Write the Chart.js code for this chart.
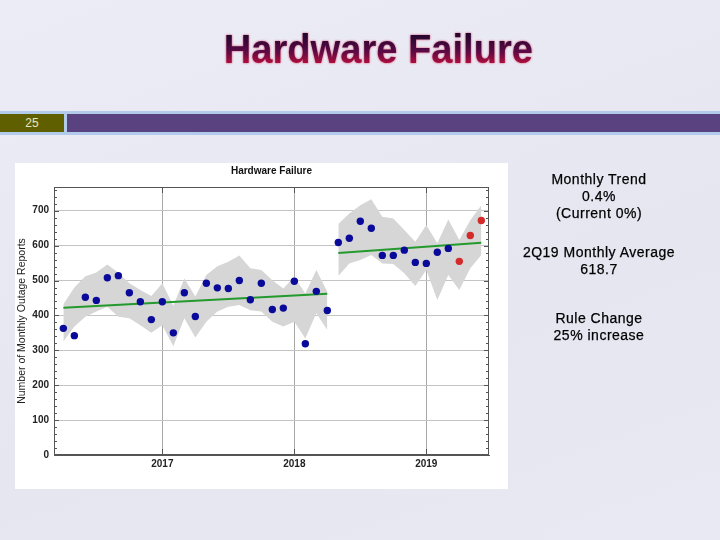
<!DOCTYPE html>
<html>
<head>
<meta charset="utf-8">
<script src="https://cdn.jsdelivr.net/npm/chart.js@4.4.0/dist/chart.umd.min.js"></script>
<style>
  body { margin: 0; width: 720px; height: 540px; overflow: hidden; position: relative;
         background: linear-gradient(160deg, #ececf6 0%, #e6e6f1 60%, #e9e9f4 100%);
         font-family: "Liberation Sans", Arial, sans-serif; }
  #slideTitle { position: absolute; left: 0; top: 25px; width: 756px; text-align: center;
                font: bold 41px/48px "Liberation Sans", Arial, sans-serif; }
  #slideTitle span { display: inline-block; transform: scaleX(0.93);
                background: linear-gradient(to bottom, #22062e 20%, #5a0a44 55%, #c0103c 85%);
                -webkit-background-clip: text; background-clip: text; color: transparent;
                filter: drop-shadow(0 0 1px rgba(215, 40, 80, 0.85)); }
  .band { position: absolute; left: 0; top: 111px; width: 720px; height: 24px; background: #b3cbea; }
  .num { position: absolute; left: 0; top: 114px; width: 64px; height: 18px; background: #5f5f00;
         color: #e6e6c0; font: 12px/18px "Liberation Sans", Arial, sans-serif; text-align: center; }
  .bar { position: absolute; left: 67px; top: 114px; width: 653px; height: 18px; background: #5a4280; }
  #chartBox { position: absolute; left: 15px; top: 163px; width: 493px; height: 326px; background: #fff; }
  #chartTitle { position: absolute; left: 39px; width: 435px; top: 1px; text-align: center;
                font: bold 10px/14px "Liberation Sans", Arial, sans-serif; color: #111; }
  canvas { position: absolute; left: 0; top: 0; }
  .note { position: absolute; left: 490px; width: 218px; text-align: center; color: #000;
          font: 14px/17px "Liberation Sans", Arial, sans-serif; letter-spacing: 0.5px;
          -webkit-text-stroke: 0.25px #000; }
</style>
</head>
<body>
<div id="slideTitle"><span>Hardware Failure</span></div>
<div class="band"></div>
<div class="num">25</div>
<div class="bar"></div>

<div id="chartBox">
  <canvas id="failureChart" width="493" height="326"></canvas>
  <div id="chartTitle">Hardware Failure</div>
</div>

<div class="note" style="top:171px">Monthly Trend<br>0.4%<br>(Current 0%)</div>
<div class="note" style="top:244px">2Q19 Monthly Average<br>618.7</div>
<div class="note" style="top:310px">Rule Change<br>25% increase</div>

<script>
// months before the rule change
const months1 = ['2016-04', '2016-05', '2016-06', '2016-07', '2016-08', '2016-09', '2016-10',
  '2016-11', '2016-12', '2017-01', '2017-02', '2017-03', '2017-04', '2017-05', '2017-06',
  '2017-07', '2017-08', '2017-09', '2017-10', '2017-11', '2017-12', '2018-01', '2018-02',
  '2018-03', '2018-04'];
const counts1 = [363, 342, 452, 443, 508, 514, 465, 439, 388, 439, 350, 465, 397,
  492, 479, 477, 500, 445, 492, 417, 421, 498, 319, 469, 414];
const upper1 = [432, 480, 512, 523, 546, 522, 492, 473, 456, 492, 428, 506, 454,
  516, 541, 554, 572, 535, 530, 501, 477, 511, 463, 530, 468];
const lower1 = [325, 368, 396, 411, 425, 396, 392, 372, 350, 372, 312, 392, 337,
  382, 411, 425, 430, 415, 411, 382, 368, 382, 334, 406, 358];

// months after the rule change
const months2 = ['2018-05', '2018-06', '2018-07', '2018-08', '2018-09', '2018-10', '2018-11',
  '2018-12', '2019-01', '2019-02', '2019-03'];
const counts2 = [609, 621, 670, 650, 572, 572, 587, 552, 549, 581, 592];

// 2Q19 (red points)
const monthsQ2 = ['2019-04', '2019-05', '2019-06'];
const countsQ2 = [555, 629, 672];

// grey band for months2 + monthsQ2
const upper2 = [662, 692, 716, 733, 683, 678, 645, 611, 659, 607, 675, 616, 673, 716];
const lower2 = [513, 549, 559, 573, 549, 547, 521, 484, 530, 444, 516, 473, 535, 573];

// trend lines (start / end)
const trendMonths1 = ['2016-04', '2018-04'];
const trendValues1 = [422, 462];
const trendMonths2 = ['2018-05', '2019-06'];
const trendValues2 = [579, 608];

const yearTicks = [2017, 2018, 2019];

// month string -> months since Jan 2016
function toX(m) {
  const [yr, mo] = m.split('-').map(Number);
  return (yr - 2016) * 12 + (mo - 1);
}
function pts(months, values) {
  return months.map((m, i) => ({ x: toX(m), y: values[i] }));
}

const bandMonths2 = months2.concat(monthsQ2);

// frame + inward minor ticks
const framePlugin = {
  id: 'frame',
  afterDatasetsDraw(chart) {
    const { ctx, chartArea: a, scales: { x, y } } = chart;
    ctx.save();
    ctx.strokeStyle = '#555';
    ctx.lineWidth = 1;
    ctx.strokeRect(Math.round(a.left) + 0.5, Math.round(a.top) + 0.5,
      Math.round(a.right - a.left) - 1, Math.round(a.bottom - a.top) - 1);
    ctx.beginPath();
    for (let v = 0; v <= y.max; v += 20) {
      const py = Math.round(y.getPixelForValue(v)) + 0.5;
      const len = v % 100 === 0 ? 5 : 3;
      ctx.moveTo(a.left, py); ctx.lineTo(a.left + len, py);
      ctx.moveTo(a.right, py); ctx.lineTo(a.right - len, py);
    }
    yearTicks.forEach(yr => {
      const px = Math.round(x.getPixelForValue((yr - 2016) * 12)) + 0.5;
      ctx.moveTo(px, a.top); ctx.lineTo(px, a.top + 6);
      ctx.moveTo(px, a.bottom); ctx.lineTo(px, a.bottom - 6);
    });
    ctx.stroke();
    ctx.restore();
  }
};

const bandStyle = { borderWidth: 0, pointRadius: 0, backgroundColor: '#d6d6d6', order: 3 };
const trendStyle = { borderColor: '#24992e', borderWidth: 2, pointRadius: 0, fill: false, order: 2 };
const dotStyle = { showLine: false, pointRadius: 3.7, pointBorderWidth: 0, order: 1 };

new Chart(document.getElementById('failureChart'), {
  type: 'line',
  data: {
    datasets: [
      { ...bandStyle, data: pts(months1, upper1), fill: '+1' },
      { ...bandStyle, data: pts(months1, lower1), fill: false },
      { ...bandStyle, data: pts(bandMonths2, upper2), fill: '+1' },
      { ...bandStyle, data: pts(bandMonths2, lower2), fill: false },
      { ...trendStyle, data: pts(trendMonths1, trendValues1) },
      { ...trendStyle, data: pts(trendMonths2, trendValues2) },
      { ...dotStyle, data: pts(months1, counts1), pointBackgroundColor: '#0a0a9a' },
      { ...dotStyle, data: pts(months2, counts2), pointBackgroundColor: '#0a0a9a' },
      { ...dotStyle, data: pts(monthsQ2, countsQ2), pointBackgroundColor: '#d42a2a' }
    ]
  },
  options: {
    responsive: false,
    animation: false,
    devicePixelRatio: 1,
    layout: { padding: { top: 24, right: 19, left: 1, bottom: 0 } },
    plugins: { legend: { display: false }, tooltip: { enabled: false } },
    elements: { line: { tension: 0 } },
    scales: {
      x: {
        type: 'linear',
        min: 2.15,
        max: 41.7,
        afterFit: s => { s.height = 34; },
        afterBuildTicks: s => { s.ticks = yearTicks.map(yr => ({ value: (yr - 2016) * 12 })); },
        grid: { color: '#a8a8a8', drawTicks: false },
        border: { color: '#555' },
        ticks: {
          padding: 3,
          color: '#222',
          font: { family: 'Liberation Sans', size: 10, weight: 'bold' },
          callback: v => String(2016 + v / 12)
        }
      },
      y: {
        min: 0,
        max: 768,
        afterFit: s => { s.width = 38; },
        grid: { color: '#c4c4c4', drawTicks: false },
        border: { color: '#555' },
        ticks: {
          stepSize: 100,
          includeBounds: false,
          padding: 5,
          color: '#222',
          font: { family: 'Liberation Sans', size: 10, weight: 'bold' }
        },
        title: {
          display: true,
          text: 'Number of Monthly Outage Reports',
          color: '#222',
          padding: 0,
          font: { family: 'Liberation Sans', size: 10.5 }
        }
      }
    }
  },
  plugins: [framePlugin]
});
</script>
</body>
</html>
